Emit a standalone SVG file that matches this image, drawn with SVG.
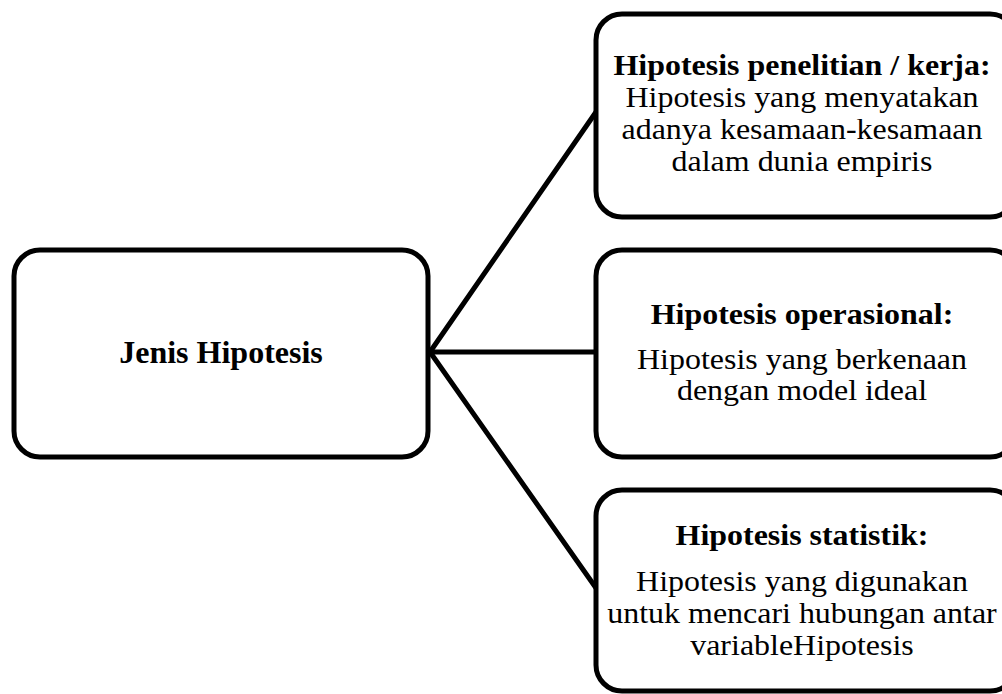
<svg xmlns="http://www.w3.org/2000/svg" width="1002" height="694" viewBox="0 0 1002 694">
  <style>
    .box { fill: #ffffff; stroke: #000000; stroke-width: 5; }
    .link { stroke: #000000; stroke-width: 5; fill: none; stroke-linecap: round; }
    text { font-family: "Liberation Serif", "Times New Roman", serif; font-size: 30px; fill: #000000; text-anchor: middle; }
    .b { font-weight: bold; }
    .root { font-size: 32px; }
  </style>
  <rect width="1002" height="694" fill="#ffffff"/>
  <g id="connectors">
    <line class="link" x1="430" y1="352" x2="596" y2="112"/>
    <line class="link" x1="430" y1="352" x2="596" y2="352"/>
    <line class="link" x1="430" y1="352" x2="596" y2="588"/>
  </g>
  <g id="jenis-hipotesis">
    <rect class="box" x="14" y="250" width="414" height="207" rx="26"/>
    <text class="b root" x="221" y="363">Jenis Hipotesis</text>
  </g>
  <!-- description boxes use a slightly wide setting: each line is stretched horizontally -->
  <g id="hipotesis-penelitian">
    <rect class="box" x="596" y="14" width="420" height="203" rx="26"/>
    <text class="b" transform="matrix(1.065 0 0 1 802 75)">Hipotesis penelitian / kerja:</text>
    <text transform="matrix(1.065 0 0 1 802 107)">Hipotesis yang menyatakan</text>
    <text transform="matrix(1.065 0 0 1 802 139)">adanya kesamaan-kesamaan</text>
    <text transform="matrix(1.065 0 0 1 802 171)">dalam dunia empiris</text>
  </g>
  <g id="hipotesis-operasional">
    <rect class="box" x="596" y="250" width="420" height="207" rx="26"/>
    <text class="b" transform="matrix(1.065 0 0 1 802 324)">Hipotesis operasional:</text>
    <text transform="matrix(1.065 0 0 1 802 369)">Hipotesis yang berkenaan</text>
    <text transform="matrix(1.065 0 0 1 802 400)">dengan model ideal</text>
  </g>
  <g id="hipotesis-statistik">
    <rect class="box" x="596" y="490" width="420" height="201" rx="26"/>
    <text class="b" transform="matrix(1.065 0 0 1 802 545)">Hipotesis statistik:</text>
    <text transform="matrix(1.065 0 0 1 802 591)">Hipotesis yang digunakan</text>
    <text transform="matrix(1.065 0 0 1 802 623)">untuk mencari hubungan antar</text>
    <text transform="matrix(1.065 0 0 1 802 655)">variableHipotesis</text>
  </g>
</svg>
